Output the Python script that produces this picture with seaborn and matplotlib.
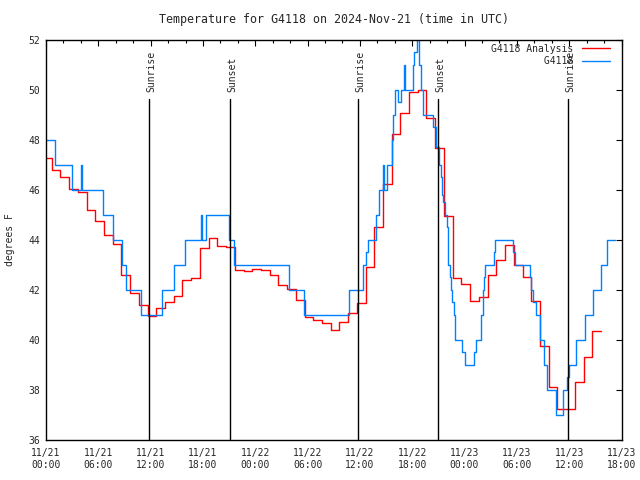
import matplotlib
matplotlib.use("Agg")
import matplotlib.pyplot as plt
import matplotlib.transforms as mtransforms
from matplotlib.ticker import MultipleLocator
import seaborn as sns
import pandas as pd

# hours since 2024-11-21 00:00 UTC, step values (deg F)
analysis_hours = [0, 0.65, 1.65, 2.65, 3.65, 4.65, 5.65, 6.65, 7.65, 8.65,
                  9.65, 10.65, 11.65, 12.65, 13.65, 14.65, 15.65, 16.65, 17.65, 18.65,
                  19.65, 20.65, 21.65, 22.65, 23.65, 24.65, 25.65, 26.65, 27.65, 28.65,
                  29.65, 30.65, 31.65, 32.65, 33.65, 34.65, 35.65, 36.65, 37.65, 38.65,
                  39.65, 40.65, 41.65, 42.65, 43.55, 44.65, 45.65, 46.65, 47.65, 48.65,
                  49.65, 50.65, 51.65, 52.65, 53.65, 54.65, 55.65, 56.65, 57.65, 58.65,
                  59.65, 60.65, 61.65, 62.65, 63.65]
analysis_temp = [47.3, 46.8, 46.5, 46.05, 45.9, 45.2, 44.75, 44.2, 43.83, 42.6,
                 41.87, 41.4, 40.96, 41.27, 41.5, 41.75, 42.4, 42.47, 43.67, 44.07,
                 43.75, 43.7, 42.8, 42.75, 42.83, 42.8, 42.6, 42.2, 42.05, 41.6,
                 40.93, 40.8, 40.67, 40.4, 40.7, 41.07, 41.47, 42.93, 44.5, 46.24,
                 48.23, 49.07, 49.93, 50.0, 48.87, 47.67, 44.96, 42.47, 42.25, 41.56,
                 41.7, 42.6, 43.2, 43.8, 43.0, 42.5, 41.56, 39.76, 38.1, 37.25,
                 37.25, 38.3, 39.3, 40.36, 40.36]

obs_hours = [0, 1.07, 2.94, 3.97, 4.17, 6.57, 7.65, 8.68, 9.17, 10.86,
             13.3, 14.68, 15.94, 17.74, 17.85, 18.35, 20.95, 21.56, 27.83, 29.63,
             34.75, 36.4, 36.75, 36.97, 37.8, 38.2, 38.6, 38.75, 39.05, 39.7,
             39.85, 40.0, 40.4, 40.67, 41.05, 41.15, 42.05, 42.2, 42.55, 42.8,
             43.05, 43.25, 44.4, 44.75, 45.05, 45.25, 45.4, 45.55, 45.8, 45.95,
             46.05, 46.15, 46.35, 46.5, 46.6, 46.75, 46.9, 47.75, 48.05, 49.1,
             49.27, 49.9, 50.08, 50.27, 50.38, 51.4, 51.5, 53.6, 53.8, 55.5,
             55.66, 55.9, 56.15, 56.6, 57.1, 57.45, 58.5, 59.3, 59.8, 59.94,
             60.78, 61.85, 62.7, 63.65, 64.33, 65.25]
obs_temp = [48, 47, 46, 47, 46, 45, 44, 43, 42, 41,
            42, 43, 44, 45, 44, 45, 44, 43, 42, 41,
            42, 43, 43.5, 44, 45, 46, 47, 46, 47, 48,
            49, 50, 49.5, 50, 51, 50, 51, 51.5, 52.3, 51,
            50, 49, 48.5, 47.7, 47, 46.5, 45.8, 45.5, 45, 44.5,
            44, 43, 42.5, 42, 41.5, 41, 40, 39.5, 39, 39.5,
            40, 41, 42, 42.5, 43, 43.5, 44, 43.5, 43, 42.5,
            42, 41.5, 41, 40, 39, 38, 37, 38, 38.5, 39,
            40, 41, 42, 43, 44, 44]

sun_hours = [11.85, 21.14, 35.82, 45.0, 59.9]
sun_labels = ["Sunrise", "Sunset", "Sunrise", "Sunset", "Sunrise"]

tick_hours = [0, 6, 12, 18, 24, 30, 36, 42, 48, 54, 60, 66]
tick_labels = ["11/21\n00:00", "11/21\n06:00", "11/21\n12:00", "11/21\n18:00",
               "11/22\n00:00", "11/22\n06:00", "11/22\n12:00", "11/22\n18:00",
               "11/23\n00:00", "11/23\n06:00", "11/23\n12:00", "11/23\n18:00"]

sns.set_style("white")
plt.rcParams["font.family"] = ["DejaVu Sans Mono"]
plt.rcParams["font.size"] = 7

fig = plt.figure(figsize=(6.4, 4.8), dpi=100)
ax = fig.add_axes([46 / 640, 40 / 480, 575.5 / 640, 400 / 480])

ana = pd.DataFrame({"hour": analysis_hours, "temp": analysis_temp})
obs = pd.DataFrame({"hour": obs_hours, "temp": obs_temp})

sns.lineplot(data=ana, x="hour", y="temp", ax=ax, color="#ff0000", lw=1.0,
             drawstyle="steps-post", label="G4118 Analysis", sort=False, estimator=None)
sns.lineplot(data=obs, x="hour", y="temp", ax=ax, color="#0080ff", lw=1.0,
             drawstyle="steps-post", label="G4118".rjust(14), sort=False, estimator=None)

# sunrise / sunset markers
trans = mtransforms.blended_transform_factory(ax.transData, ax.transAxes)
for h, lab in zip(sun_hours, sun_labels):
    ax.axvline(h, ymin=0, ymax=0.8525, color="black", lw=1.0, zorder=5)
    ax.text(h + 0.2, 0.87, lab, rotation=90, transform=trans,
            ha="center", va="bottom", fontsize=7)

ax.set_xlim(0, 66)
ax.set_ylim(36, 52)
ax.set_xticks(tick_hours)
ax.set_xticklabels(tick_labels)
ax.xaxis.set_minor_locator(MultipleLocator(2))
ax.yaxis.set_major_locator(MultipleLocator(2))
ax.tick_params(which="both", direction="in", top=True, right=True, color="black")
ax.tick_params(which="major", length=4.5, width=0.8)
ax.tick_params(which="minor", length=2.2, width=0.8)
ax.tick_params(axis="x", pad=6)
ax.tick_params(axis="y", pad=4)

for sp in ax.spines.values():
    sp.set_color("black")
    sp.set_linewidth(1.0)

ax.set_xlabel("")
ax.set_ylabel("degrees F", labelpad=10)
ax.set_title("Temperature for G4118 on 2024-Nov-21 (time in UTC)", pad=12)

leg = ax.legend(loc="upper right", bbox_to_anchor=(1 - 5 / 575.5, 1 + 3 / 400),
                frameon=False, markerfirst=False,
                handlelength=2.9, borderaxespad=0.3, labelspacing=0.25,
                handletextpad=0.8)

fig.savefig("out.png", dpi=100)
